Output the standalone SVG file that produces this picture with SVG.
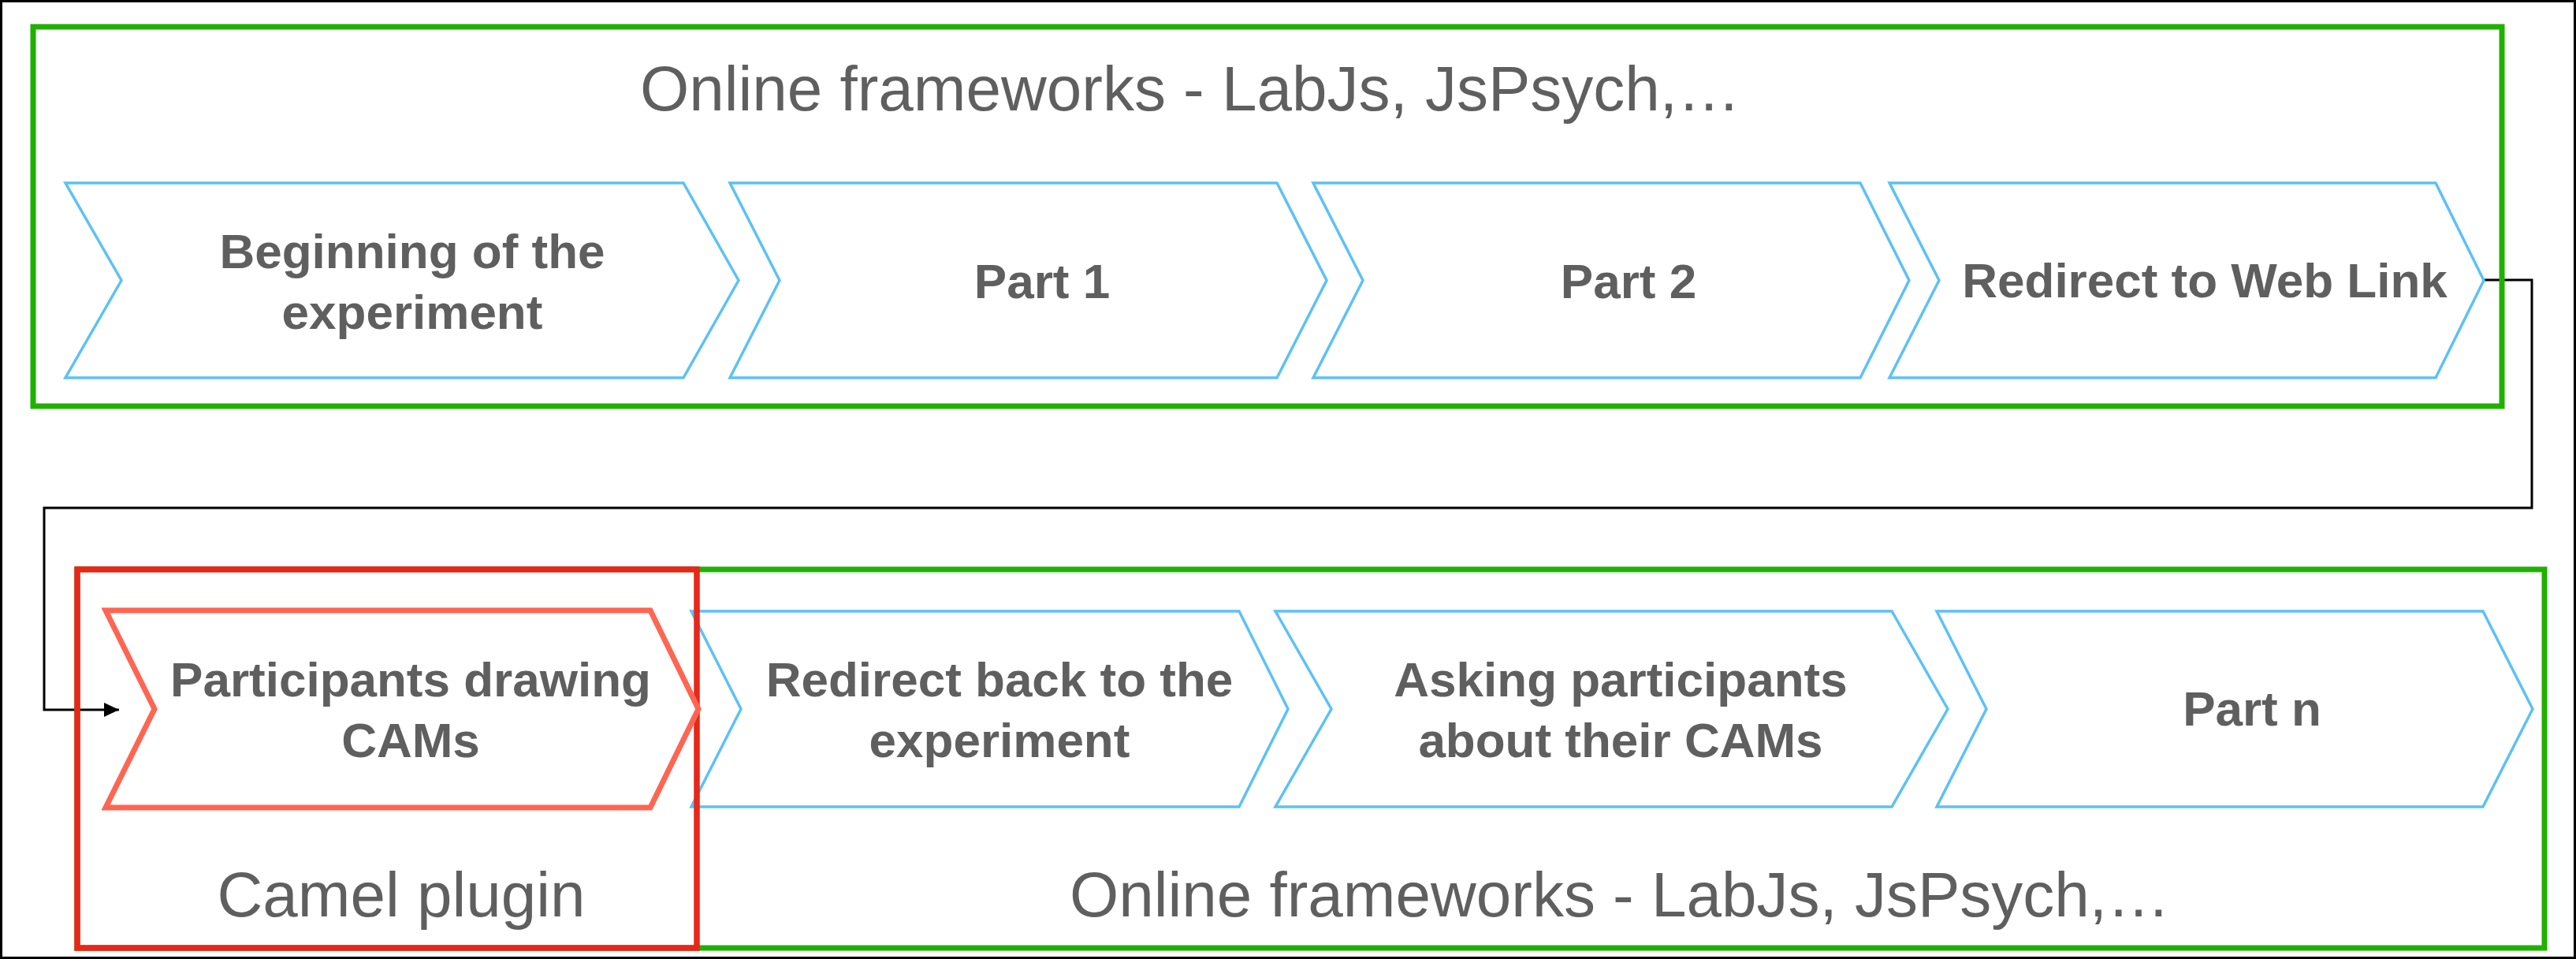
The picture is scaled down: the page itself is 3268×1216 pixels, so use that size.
<svg xmlns="http://www.w3.org/2000/svg" width="3268" height="1216" viewBox="0 0 3268 1216">
<defs>
<style>
.lbl{font-family:"Liberation Sans",Arial,Helvetica,sans-serif;font-weight:bold;font-size:62px;fill:#5f5f5f;text-anchor:middle}
.ttl{font-family:"Liberation Sans",Arial,Helvetica,sans-serif;font-size:80px;fill:#5f5f5f;text-anchor:middle}
.step{fill:#ffffff;stroke:#5cc1f7;stroke-width:3.5}
.camstep{fill:#ffffff;stroke:#ff6551;stroke-width:7}
.green{fill:none;stroke:#20b000;stroke-width:7}
.red{fill:none;stroke:#e8261a;stroke-width:7.5}
.conn{fill:none;stroke:#000000;stroke-width:3}
</style>
<marker id="arrow" markerUnits="userSpaceOnUse" markerWidth="20" markerHeight="20" refX="19" refY="9" orient="auto">
<path d="M0,0 L19,9 L0,18 z" fill="#000000"/>
</marker>
</defs>
<rect x="0" y="0" width="3268" height="1216" fill="#ffffff"/>
<rect x="1.5" y="1.5" width="3265" height="1213" fill="none" stroke="#000000" stroke-width="3"/>
<g id="connectors">
<polyline class="conn" points="3151,355 3212,355 3212,644 56,644 56,900 151,900" marker-end="url(#arrow)"/>
</g>
<g id="frame-top">
<rect class="green" x="42" y="34" width="3132" height="481"/>
<text class="ttl" x="1510" y="140">Online frameworks - LabJs, JsPsych,…</text>
</g>
<g id="frame-bottom">
<rect class="green" x="98" y="722" width="3130" height="480"/>
<text class="ttl" x="2055" y="1162">Online frameworks - LabJs, JsPsych,…</text>
</g>
<g id="step-beginning">
<polygon class="step" points="83,232 867,232 937,355.5 867,479 83,479 154,355.5"/>
<text class="lbl" x="523" y="340">Beginning of the</text>
<text class="lbl" x="523" y="417">experiment</text>
</g>
<g id="step-part1">
<polygon class="step" points="926,232 1620,232 1683,355.5 1620,479 926,479 989,355.5"/>
<text class="lbl" x="1322" y="378">Part 1</text>
</g>
<g id="step-part2">
<polygon class="step" points="1666,232 2360,232 2422,355.5 2360,479 1666,479 1729,355.5"/>
<text class="lbl" x="2066" y="378">Part 2</text>
</g>
<g id="step-redirect">
<polygon class="step" points="2397,232 3090,232 3151,355.5 3090,479 2397,479 2460,355.5"/>
<text class="lbl" x="2797" y="377">Redirect to Web Link</text>
</g>
<g id="step-redirect-back">
<polygon class="step" points="877,775 1572,775 1634,899 1572,1023 877,1023 940,899"/>
<text class="lbl" x="1268" y="883">Redirect back to the</text>
<text class="lbl" x="1268" y="960">experiment</text>
</g>
<g id="step-asking">
<polygon class="step" points="1618,775 2400,775 2471,899 2400,1023 1618,1023 1689,899"/>
<text class="lbl" x="2056" y="883">Asking participants</text>
<text class="lbl" x="2056" y="960">about their CAMs</text>
</g>
<g id="step-partn">
<polygon class="step" points="2457,775 3150,775 3213,899 3150,1023 2457,1023 2520,899"/>
<text class="lbl" x="2857" y="920">Part n</text>
</g>
<g id="frame-camel">
<rect class="red" x="98" y="722" width="786" height="480"/>
<text class="ttl" x="509" y="1162">Camel plugin</text>
</g>
<g id="step-drawing">
<polygon class="camstep" points="134,774 825,774 886,899 825,1024 134,1024 196,899"/>
<text class="lbl" x="521" y="883">Participants drawing</text>
<text class="lbl" x="521" y="960">CAMs</text>
</g>
</svg>
